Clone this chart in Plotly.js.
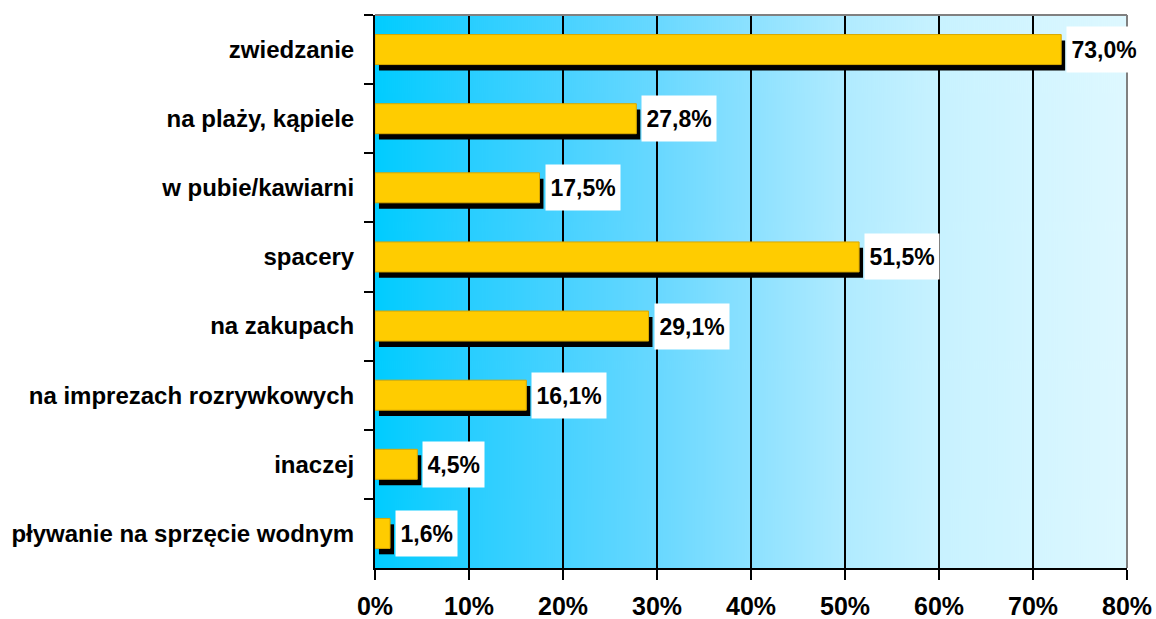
<!DOCTYPE html>
<html>
<head>
<meta charset="utf-8">
<script src="https://cdn.plot.ly/plotly-3.0.1.min.js"></script>
<style>html,body{margin:0;padding:0;background:#fff;}#chart{width:1156px;height:619px;}</style>
</head>
<body>
<div id="chart"></div>
<script>
var categories = ["zwiedzanie", "na plaży, kąpiele", "w pubie/kawiarni", "spacery", "na zakupach", "na imprezach rozrywkowych", "inaczej", "pływanie na sprzęcie wodnym"];
var values = [73.0, 27.8, 17.5, 51.5, 29.1, 16.1, 4.5, 1.6];
var valueLabels = ["73,0%", "27,8%", "17,5%", "51,5%", "29,1%", "16,1%", "4,5%", "1,6%"];
var tickVals = [0, 10, 20, 30, 40, 50, 60, 70, 80];
var tickText = ["0%", "10%", "20%", "30%", "40%", "50%", "60%", "70%", "80%"];

// background gradient image
var gradStops = [
  [0.0, "rgb(0,204,255)"],
  [0.125, "rgb(40,206,255)"],
  [0.25, "rgb(72,210,255)"],
  [0.375, "rgb(104,216,255)"],
  [0.5, "rgb(140,225,255)"],
  [0.625, "rgb(176,235,255)"],
  [0.75, "rgb(200,242,255)"],
  [0.875, "rgb(211,245,255)"],
  [1.0, "rgb(222,248,255)"]
];
var cv = document.createElement("canvas");
cv.width = 752; cv.height = 4;
var ctx = cv.getContext("2d");
var g = ctx.createLinearGradient(0, 0, 752, 0);
gradStops.forEach(function(s){ g.addColorStop(s[0], s[1]); });
ctx.fillStyle = g; ctx.fillRect(0, 0, 752, 4);
var bgURL = cv.toDataURL("image/png");

var FONT = "Arial, 'Liberation Sans', sans-serif";
var barW = 0.434;
var shadowDX = 0.42;   // in % units
var shadowDY = 0.085;  // in category units

var shadow = {
  type: "bar", orientation: "h",
  y: categories, x: values,
  base: values.map(function(){ return shadowDX; }),
  width: barW, offset: -barW/2 + shadowDY,
  marker: {color: "#000000", line: {width: 0}},
  hoverinfo: "skip", showlegend: false
};
var bars = {
  type: "bar", orientation: "h",
  y: categories, x: values,
  width: barW, offset: -barW/2,
  marker: {color: "#FFCC00", line: {color: "#D9A800", width: 1}},
  showlegend: false
};

var annotations = categories.map(function(c, i){
  return {
    x: values[i], y: c, xref: "x", yref: "y",
    xanchor: "left", yanchor: "middle", xshift: 5,
    text: "<b>" + valueLabels[i] + "</b>",
    showarrow: false,
    bgcolor: "#FFFFFF", borderpad: 4.5, height: 36,
    font: {family: FONT, size: 23, color: "#000000"}
  };
});

var layout = {
  width: 1156, height: 619,
  margin: {l: 375, r: 29, t: 15, b: 51, pad: 0},
  paper_bgcolor: "#FFFFFF", plot_bgcolor: "#FFFFFF",
  barmode: "overlay",
  showlegend: false,
  xaxis: {
    range: [0, 80], tickvals: tickVals, ticktext: tickText,
    showgrid: true, gridcolor: "#000000", gridwidth: 2,
    zeroline: false, showline: true, linecolor: "#000000", linewidth: 2,
    ticks: "outside", ticklen: 10, tickwidth: 2, tickcolor: "#000000",
    ticklabelstandoff: 5,
    tickfont: {family: FONT, size: 25, color: "#000000", weight: "bold"},
    fixedrange: true
  },
  yaxis: {
    type: "category", autorange: "reversed",
    tickson: "boundaries",
    showgrid: false, zeroline: false, showline: true, linecolor: "#000000", linewidth: 2,
    ticks: "outside", ticklen: 9, tickwidth: 2, tickcolor: "#000000",
    ticklabelstandoff: 14,
    tickfont: {family: FONT, size: 24, color: "#000000", weight: "bold"},
    fixedrange: true
  },
  images: [{
    source: bgURL, xref: "x domain", yref: "y domain",
    x: 0, y: 1, sizex: 1, sizey: 1, sizing: "stretch",
    xanchor: "left", yanchor: "top", layer: "below"
  }],
  shapes: [
    {type: "line", xref: "x domain", yref: "y domain", x0: 0, x1: 1, y0: 1, y1: 1, line: {color: "#808080", width: 2}},
    {type: "line", xref: "x domain", yref: "y domain", x0: 1, x1: 1, y0: 0, y1: 1, line: {color: "#808080", width: 2}}
  ],
  annotations: annotations
};

Plotly.newPlot("chart", [shadow, bars], layout, {displayModeBar: false, staticPlot: true});
</script>
</body>
</html>
